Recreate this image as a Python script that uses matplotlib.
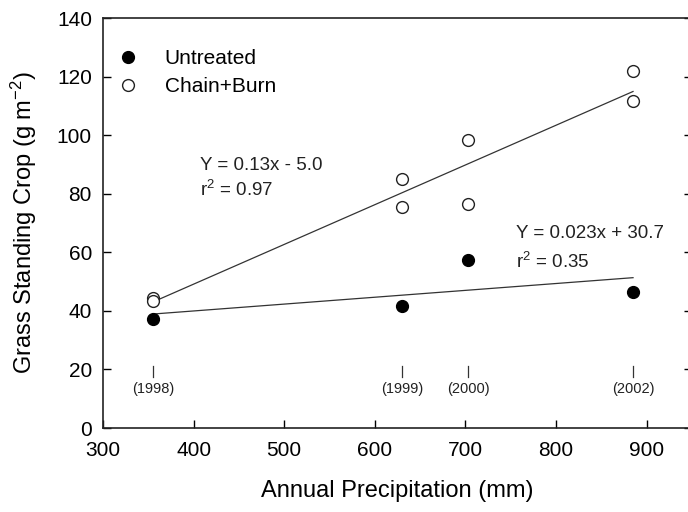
import numpy as np
import matplotlib
matplotlib.use('Agg')
import matplotlib.pyplot as plt

plt.rcParams['font.family'] = ['Liberation Sans', 'DejaVu Sans']
plt.rcParams['mathtext.fontset'] = 'custom'
plt.rcParams['mathtext.rm'] = 'Liberation Sans'
plt.rcParams['mathtext.default'] = 'regular'

# annual precipitation (mm) for each year
years = ['(1998)', '(1999)', '(2000)', '(2002)']
precip = [355, 630, 703, 885]

# grass standing crop (g m-2)
untreated = [37.2, 41.5, 57.5, 46.5]
chain_x = [355, 355, 630, 630, 703, 703, 885, 885]
chain_burn = [44.5, 43.5, 85.0, 75.5, 98.5, 76.5, 122.0, 111.5]

# least squares lines through the points
fit_untreated = np.polyfit(precip, untreated, 1)
fit_chain = np.polyfit(chain_x, chain_burn, 1)

fig = plt.figure(figsize=(6.88, 5.12), dpi=100)
ax = fig.add_axes([0.1497, 0.164, 0.856, 0.8008])

xl = np.array([precip[0], precip[-1]])
ax.plot(xl, np.polyval(fit_chain, xl), color='#333333', lw=0.9, zorder=1)
ax.plot(xl, np.polyval(fit_untreated, xl), color='#333333', lw=0.9, zorder=1)

ax.plot(precip, untreated, 'o', color='black', markersize=8.5, label='Untreated', zorder=3)
ax.plot(chain_x, chain_burn, 'o', markerfacecolor='white', markeredgecolor='#222222',
        markeredgewidth=1.0, markersize=8.5, label='Chain+Burn', zorder=3)

# year markers above the x axis
for px, yr in zip(precip, years):
    ax.plot([px, px], [17.3, 21.3], color='#333333', lw=0.9)
    ax.text(px, 13.3, yr, ha='center', va='center', fontsize=10.5, color='#222222')

ax.text(407, 89.6, 'Y = 0.13x - 5.0', fontsize=13.5, va='center', color='#222222')
ax.text(407, 81.4, 'r$^2$ = 0.97', fontsize=13.5, va='center', color='#222222')
ax.text(756, 66.5, 'Y = 0.023x + 30.7', fontsize=13.5, va='center', color='#222222')
ax.text(756, 56.8, 'r$^2$ = 0.35', fontsize=13.5, va='center', color='#222222')

ax.set_xlim(300, 950)
ax.set_ylim(0, 140)
ax.set_xticks(np.arange(300, 1000, 100))
ax.set_yticks(np.arange(0, 160, 20))
ax.tick_params(direction='in', length=6, width=1, labelsize=15, top=False, right=True)
ax.tick_params(axis='x', pad=9)
ax.tick_params(axis='y', pad=8)
for s in ax.spines.values():
    s.set_linewidth(1.2)
    s.set_color('#222222')

ax.set_xlabel('Annual Precipitation (mm)', fontsize=17, labelpad=15)
ax.set_ylabel('Grass Standing Crop (g m$^{-2}$)', fontsize=17, labelpad=13)

ax.legend(loc='upper left', bbox_to_anchor=(-0.01, 0.975), frameon=False, fontsize=15,
          handlelength=1.0, handletextpad=1.25, labelspacing=0.44, borderaxespad=0.6)

fig.savefig('out.png', dpi=100)
